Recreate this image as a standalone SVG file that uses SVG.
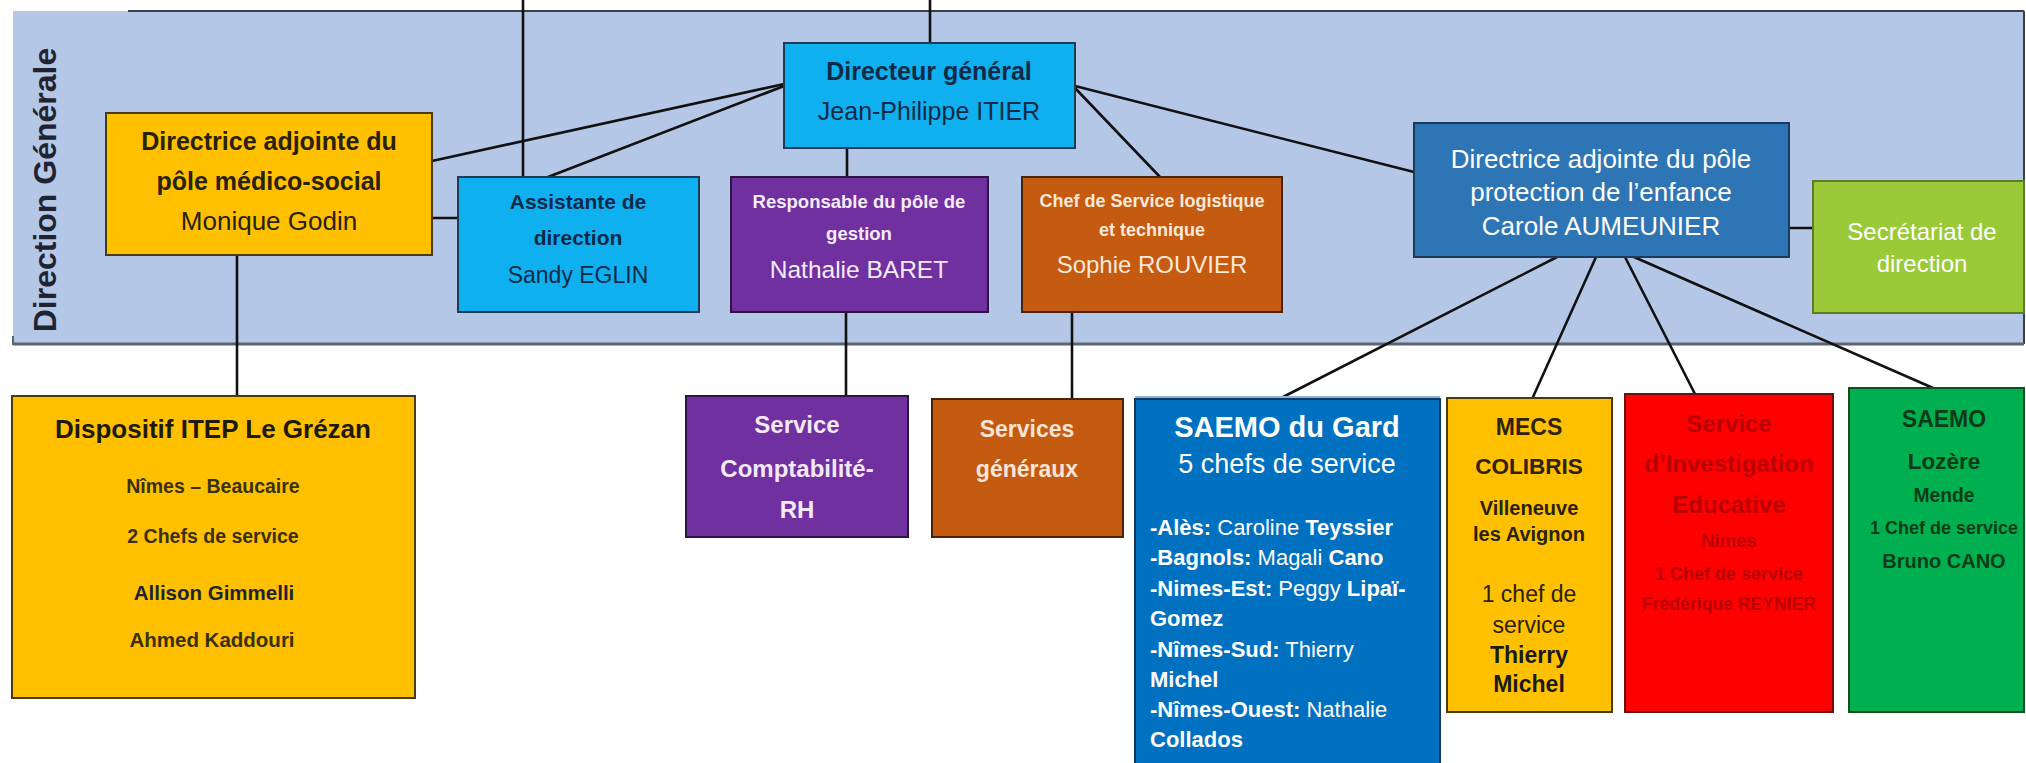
<svg xmlns="http://www.w3.org/2000/svg" width="2026" height="763" viewBox="0 0 2026 763">
<style>
text{font-family:"Liberation Sans",Arial,sans-serif;text-anchor:middle}
.b{font-weight:bold}
.box{stroke-width:2}
.con line{stroke:#111;stroke-width:2.6;stroke-linecap:round}
.l{text-anchor:start}
</style>
<rect width="2026" height="763" fill="#ffffff"/>
<g id="panel">
<rect x="13" y="11" width="2011" height="333" fill="#b4c7e7"/>
<line x1="128" y1="11" x2="2024" y2="11" stroke="#3a3f48" stroke-width="2"/>
<line x1="2024" y1="11" x2="2024" y2="344" stroke="#3a3f48" stroke-width="2"/>
<line x1="13" y1="344" x2="2024" y2="344" stroke="#5d6470" stroke-width="3"/>
<line x1="13" y1="336" x2="13" y2="345" stroke="#5d6470" stroke-width="2"/>
<text class="b" x="56" y="190" font-size="32" fill="#1f2430" transform="rotate(-90 56 190)">Direction Générale</text>
</g>
<g class="con" id="connectors">
<line x1="523" y1="0" x2="523" y2="177"/>
<line x1="930" y1="0" x2="930" y2="43"/>
<line x1="784" y1="84" x2="432" y2="161"/>
<line x1="784" y1="86" x2="548" y2="177"/>
<line x1="847" y1="148" x2="847" y2="177"/>
<line x1="1075" y1="88" x2="1160" y2="177"/>
<line x1="1075" y1="86" x2="1414" y2="172"/>
<line x1="432" y1="218" x2="458" y2="218"/>
<line x1="237" y1="255" x2="237" y2="396"/>
<line x1="846" y1="312" x2="846" y2="396"/>
<line x1="1072" y1="312" x2="1072" y2="398"/>
<line x1="1557" y1="257" x2="1283" y2="397"/>
<line x1="1596" y1="257" x2="1533" y2="397"/>
<line x1="1625" y1="257" x2="1695" y2="394"/>
<line x1="1634" y1="257" x2="1933" y2="388"/>
<line x1="1789" y1="228" x2="1813" y2="228"/>
</g>
<g id="directeur">
<rect class="box" x="784" y="43" width="291" height="105" fill="#0fb0ef" stroke="#1f3b55"/>
<text class="b" x="929" y="80" font-size="25" fill="#0e2a47">Directeur général</text>
<text x="929" y="120" font-size="25" fill="#0e2a47">Jean-Philippe ITIER</text>
</g>
<g id="directrice-medico-social">
<rect class="box" x="106" y="113" width="326" height="142" fill="#ffc000" stroke="#4a3a10"/>
<text class="b" x="269" y="150" font-size="25" fill="#2a2208">Directrice adjointe du</text>
<text class="b" x="269" y="190" font-size="25" fill="#2a2208">pôle médico-social</text>
<text x="269" y="230" font-size="26" fill="#2a2208">Monique Godin</text>
</g>
<g id="assistante">
<rect class="box" x="458" y="177" width="241" height="135" fill="#0fb0ef" stroke="#1f3b55"/>
<text class="b" x="578" y="209" font-size="21" fill="#0e2a47">Assistante de</text>
<text class="b" x="578" y="245" font-size="21" fill="#0e2a47">direction</text>
<text x="578" y="283" font-size="23" fill="#0e2a47">Sandy EGLIN</text>
</g>
<g id="responsable-gestion">
<rect class="box" x="731" y="177" width="257" height="135" fill="#7030a0" stroke="#2e1442"/>
<text class="b" x="859" y="208" font-size="18.5" fill="#f5ecfa">Responsable du pôle de</text>
<text class="b" x="859" y="240" font-size="18.5" fill="#f5ecfa">gestion</text>
<text x="859" y="278" font-size="24.5" fill="#f5ecfa">Nathalie BARET</text>
</g>
<g id="chef-logistique">
<rect class="box" x="1022" y="177" width="260" height="135" fill="#c55a11" stroke="#4a2408"/>
<text class="b" x="1152" y="207" font-size="18" fill="#fde9d9">Chef de Service logistique</text>
<text class="b" x="1152" y="236" font-size="18" fill="#fde9d9">et technique</text>
<text x="1152" y="273" font-size="24" fill="#fde9d9">Sophie ROUVIER</text>
</g>
<g id="directrice-protection">
<rect class="box" x="1414" y="123" width="375" height="134" fill="#2e75b6" stroke="#1b3a5c"/>
<text x="1601" y="168" font-size="26" fill="#ffffff">Directrice adjointe du pôle</text>
<text x="1601" y="201" font-size="26" fill="#ffffff">protection de l’enfance</text>
<text x="1601" y="235" font-size="26" fill="#ffffff">Carole AUMEUNIER</text>
</g>
<g id="secretariat">
<rect class="box" x="1813" y="181" width="211" height="132" fill="#9ac93a" stroke="#5c7d22"/>
<text x="1922" y="240" font-size="24" fill="#ffffff">Secrétariat de</text>
<text x="1922" y="272" font-size="24" fill="#ffffff">direction</text>
</g>
<g id="itep">
<rect class="box" x="12" y="396" width="403" height="302" fill="#ffc000" stroke="#4a3a10"/>
<text class="b" x="213" y="438" font-size="26" fill="#1e1a08">Dispositif ITEP Le Grézan</text>
<text class="b" x="213" y="493" font-size="19.5" fill="#3a300a">Nîmes – Beaucaire</text>
<text class="b" x="213" y="543" font-size="19.5" fill="#3a300a">2 Chefs de service</text>
<text class="b" x="214" y="600" font-size="20.5" fill="#1c2533">Allison Gimmelli</text>
<text class="b" x="212" y="647" font-size="20.5" fill="#3a300a">Ahmed Kaddouri</text>
</g>
<g id="comptabilite-rh">
<rect class="box" x="686" y="396" width="222" height="141" fill="#7030a0" stroke="#2e1442"/>
<text class="b" x="797" y="433" font-size="24" fill="#f3e9f9">Service</text>
<text class="b" x="797" y="477" font-size="24" fill="#f3e9f9">Comptabilité-</text>
<text class="b" x="797" y="518" font-size="24" fill="#f3e9f9">RH</text>
</g>
<g id="services-generaux">
<rect class="box" x="932" y="399" width="191" height="138" fill="#c55a11" stroke="#4a2408"/>
<text class="b" x="1027" y="437" font-size="23" fill="#fbe5d6">Services</text>
<text class="b" x="1027" y="477" font-size="23" fill="#fbe5d6">généraux</text>
</g>
<g id="saemo-gard">
<rect x="1135" y="396" width="305" height="3" fill="#8fb5dc"/>
<rect class="box" x="1135" y="399" width="305" height="370" fill="#0070c0" stroke="#17365d"/>
<text class="b" x="1287" y="437" font-size="29" fill="#ffffff">SAEMO du Gard</text>
<text x="1287" y="473" font-size="27" fill="#ffffff">5 chefs de service</text>
<g font-size="22" fill="#ffffff">
<text class="l" x="1150" y="535"><tspan font-weight="bold">-Alès:</tspan> Caroline <tspan font-weight="bold">Teyssier</tspan></text>
<text class="l" x="1150" y="565"><tspan font-weight="bold">-Bagnols:</tspan> Magali <tspan font-weight="bold">Cano</tspan></text>
<text class="l" x="1150" y="596"><tspan font-weight="bold">-Nimes-Est:</tspan> Peggy <tspan font-weight="bold">Lipaï-</tspan></text>
<text class="l b" x="1150" y="626">Gomez</text>
<text class="l" x="1150" y="657"><tspan font-weight="bold">-Nîmes-Sud:</tspan> Thierry</text>
<text class="l b" x="1150" y="687">Michel</text>
<text class="l" x="1150" y="717"><tspan font-weight="bold">-Nîmes-Ouest:</tspan> Nathalie</text>
<text class="l b" x="1150" y="747">Collados</text>
</g>
</g>
<g id="mecs-colibris">
<rect class="box" x="1447" y="398" width="165" height="314" fill="#ffc000" stroke="#4a3a10"/>
<text class="b" x="1529" y="435" font-size="23" fill="#2e2208">MECS</text>
<text class="b" x="1529" y="474" font-size="22.5" fill="#2e2208">COLIBRIS</text>
<text class="b" x="1529" y="515" font-size="20" fill="#2a2208">Villeneuve</text>
<text class="b" x="1529" y="541" font-size="20" fill="#2a2208">les Avignon</text>
<text x="1529" y="602" font-size="23" fill="#2a2208">1 chef de</text>
<text x="1529" y="633" font-size="23" fill="#2a2208">service</text>
<text class="b" x="1529" y="663" font-size="23" fill="#1a1a1a">Thierry</text>
<text class="b" x="1529" y="692" font-size="23" fill="#1a1a1a">Michel</text>
</g>
<g id="investigation-educative">
<rect class="box" x="1625" y="394" width="208" height="318" fill="#ff0000" stroke="#6a1010"/>
<text class="b" x="1729" y="432" font-size="24" fill="#b80000">Service</text>
<text class="b" x="1729" y="472" font-size="24" fill="#b80000">d’Investigation</text>
<text class="b" x="1729" y="513" font-size="24" fill="#b80000">Educative</text>
<text class="b" x="1729" y="547" font-size="18.5" fill="#b80000">Nimes</text>
<text class="b" x="1729" y="580" font-size="18" fill="#b80000">1 Chef de service</text>
<text class="b" x="1729" y="610" font-size="17.6" fill="#b80000">Frédérique REYNIER</text>
</g>
<g id="saemo-lozere">
<rect class="box" x="1849" y="388" width="175" height="324" fill="#00b050" stroke="#10501f"/>
<text class="b" x="1944" y="427" font-size="23" fill="#0b3b17">SAEMO</text>
<text class="b" x="1944" y="469" font-size="22.5" fill="#0b3b17">Lozère</text>
<text class="b" x="1944" y="502" font-size="19.3" fill="#0b3b17">Mende</text>
<text class="b" x="1944" y="534" font-size="18" fill="#0b3b17">1 Chef de service</text>
<text class="b" x="1944" y="568" font-size="20" fill="#0b3b17">Bruno CANO</text>
</g>
</svg>
